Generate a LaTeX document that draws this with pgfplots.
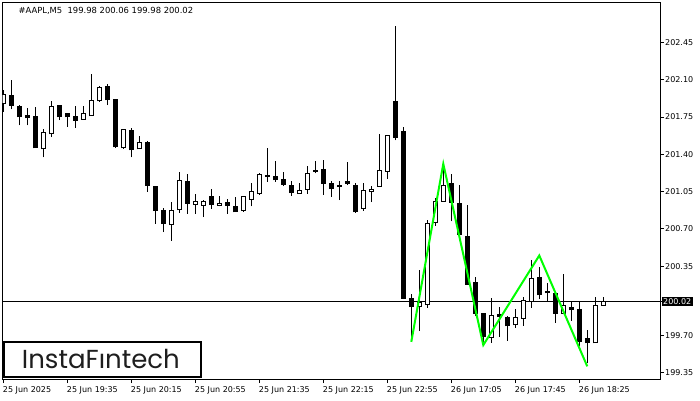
\documentclass[border=0pt]{standalone}
\usepackage{fontspec}
\setmainfont{DejaVu Sans}
\newfontfamily\logofont{Poppins}
\usepackage{graphicx}
\usepackage{pgfplots}
\usepackage{pgfplotstable}
\pgfplotsset{compat=1.18}
\definecolor{patgreen}{RGB}{0,255,0}
\definecolor{logotext}{RGB}{30,30,30}

\pgfplotstableread{
i O H L C
0 201.88 202.00 201.80 201.96
1 201.95 202.10 201.82 201.86
2 201.85 201.86 201.67 201.75
3 201.76 201.83 201.67 201.74
4 201.75 201.84 201.46 201.46
5 201.45 201.64 201.37 201.60
6 201.59 201.90 201.56 201.85
7 201.86 201.86 201.72 201.75
8 201.78 201.79 201.66 201.75
9 201.75 201.85 201.65 201.72
10 201.73 201.85 201.73 201.78
11 201.76 202.15 201.76 201.90
12 201.90 202.04 201.89 202.03
13 202.04 202.06 201.86 201.91
14 201.91 201.91 201.46 201.47
15 201.46 201.64 201.45 201.63
16 201.62 201.65 201.37 201.44
17 201.45 201.57 201.45 201.51
18 201.51 201.52 201.05 201.11
19 201.10 201.10 200.75 200.87
20 200.87 200.90 200.67 200.75
21 200.74 200.95 200.59 200.87
22 200.88 201.23 200.85 201.15
23 201.14 201.21 200.84 200.94
24 200.93 201.03 200.84 200.96
25 200.92 200.97 200.81 200.96
26 201.00 201.07 200.89 200.93
27 200.92 201.01 200.91 200.94
28 200.95 200.98 200.84 200.92
29 200.91 201.00 200.86 200.86
30 200.87 201.00 200.86 201.00
31 200.98 201.13 200.91 201.05
32 201.03 201.22 201.02 201.21
33 201.19 201.46 201.14 201.20
34 201.19 201.34 201.14 201.16
35 201.16 201.23 201.10 201.12
36 201.11 201.15 201.01 201.04
37 201.03 201.13 201.03 201.06
38 201.07 201.29 201.03 201.22
39 201.24 201.34 201.22 201.25
40 201.26 201.35 201.02 201.13
41 201.13 201.15 201.00 201.08
42 201.11 201.15 200.97 201.10
43 201.13 201.33 201.11 201.14
44 201.11 201.13 200.85 200.86
45 200.89 201.13 200.87 201.06
46 201.05 201.10 200.95 201.07
47 201.10 201.59 201.10 201.25
48 201.24 201.58 201.17 201.58
49 201.89 202.60 201.53 201.56
50 201.61 201.66 200.04 200.05
51 200.05 200.09 199.66 199.97
52 199.97 200.31 199.74 200.01
53 199.99 200.78 199.96 200.75
54 200.76 200.99 200.73 200.96
55 200.96 201.30 200.96 201.11
56 201.13 201.21 200.77 200.95
57 200.94 201.11 200.65 200.65
58 200.63 200.92 200.18 200.18
59 200.20 200.25 199.88 199.91
60 199.91 199.91 199.61 199.69
61 199.68 200.05 199.63 199.89
62 199.90 199.97 199.69 199.88
63 199.87 199.88 199.65 199.79
64 199.80 199.95 199.77 199.87
65 199.86 200.06 199.79 200.03
66 200.02 200.41 199.96 200.23
67 200.24 200.34 200.04 200.08
68 200.11 200.19 200.02 200.10
69 200.09 200.10 199.82 199.91
70 199.91 200.28 199.90 199.98
71 199.96 200.01 199.84 199.94
72 199.94 200.01 199.60 199.64
73 199.67 199.75 199.44 199.63
74 199.63 200.06 199.63 199.98
75 199.98 200.06 199.98 200.02
}\candles

\begin{document}
\begin{tikzpicture}[x=1pt,y=1pt]
\useasboundingbox (0,0) rectangle (700,400);
\begin{axis}[
  at={(2.7pt,21pt)}, anchor=south west,
  scale only axis, width=657.3pt, height=376.3pt,
  xmin=-0.075, xmax=82.09, ymin=199.2915, ymax=202.8215,
  axis line style={black, line width=0.8pt},
  tick align=outside, major tick length=4pt,
  tick style={black, line width=0.8pt},
  xtick pos=left, ytick pos=right,
  xticklabel pos=left, yticklabel pos=right,
  xtick={0,8,16,24,32,40,48,56,64,72},
  xticklabels={25 Jun 2025,25 Jun 19:35,25 Jun 20:15,25 Jun 20:55,25 Jun 21:35,25 Jun 22:15,25 Jun 22:55,26 Jun 17:05,26 Jun 17:45,26 Jun 18:25},
  ytick={199.35,199.70,200.35,200.70,201.05,201.40,201.75,202.10,202.45},
  yticklabels={199.35,199.70,200.35,200.70,201.05,201.40,201.75,202.10,202.45},
  xticklabel style={font=\fontsize{8}{9}\selectfont, anchor=north west, inner sep=0pt, xshift=-0.5pt, yshift=-3pt},
  yticklabel style={font=\fontsize{8}{9}\selectfont, anchor=west, inner sep=0pt, xshift=1pt},
  extra y ticks={200.02},
  extra y tick labels={200.02},
  extra y tick style={yticklabel style={fill=black, text=white, inner xsep=1.5pt, inner ysep=1.4pt, xshift=-3.5pt}},
  clip=true,
]
\addplot[black, line width=0.8pt, mark=none, forget plot] coordinates {(-1,200.02) (90,200.02)};
% wicks
\addplot[draw=none, mark=none, forget plot,
  error bars/.cd, y dir=plus, y explicit, error mark=none,
  error bar style={draw=black, line width=1pt}]
  table[x=i, y=L, y error expr={\thisrow{H}-\thisrow{L}}] {\candles};
% body outlines / black bodies
\addplot[draw=none, mark=none, forget plot,
  error bars/.cd, y dir=plus, y explicit, error mark=none,
  error bar style={draw=black, line width=5pt}]
  table[x=i, y expr={min(\thisrow{O},\thisrow{C})-0.0047}, y error expr={abs(\thisrow{C}-\thisrow{O})+0.0094}] {\candles};
% white interiors
\addplot[draw=none, mark=none, forget plot,
  error bars/.cd, y dir=plus, y explicit, error mark=none,
  error bar style={draw=white, line width=3pt}]
  table[x=i, y expr={(\thisrow{C}>\thisrow{O}+0.0094) ? (\thisrow{O}+0.0047) : nan}, y error expr={\thisrow{C}-\thisrow{O}-0.0094}] {\candles};
% pattern
\addplot[patgreen, line width=2pt, mark=none, line join=miter] coordinates {(51,199.64) (55,201.31) (60,199.61) (67,200.45) (73,199.41)};
\end{axis}
\node[anchor=base west, inner sep=0pt, font=\fontsize{8.4}{9}\selectfont] at (18.3,386) {\#AAPL,M5\ \ 199.98 200.06 199.98 200.02};
\draw[black, line width=2pt, fill=white] (3.7,22.7) rectangle (200.7,58.3);
\node[anchor=base west, inner sep=0pt, text=logotext] at (21.7,31.7) {\resizebox{158pt}{!}{\logofont InstaF\i ntech}};
\end{tikzpicture}
\end{document}
